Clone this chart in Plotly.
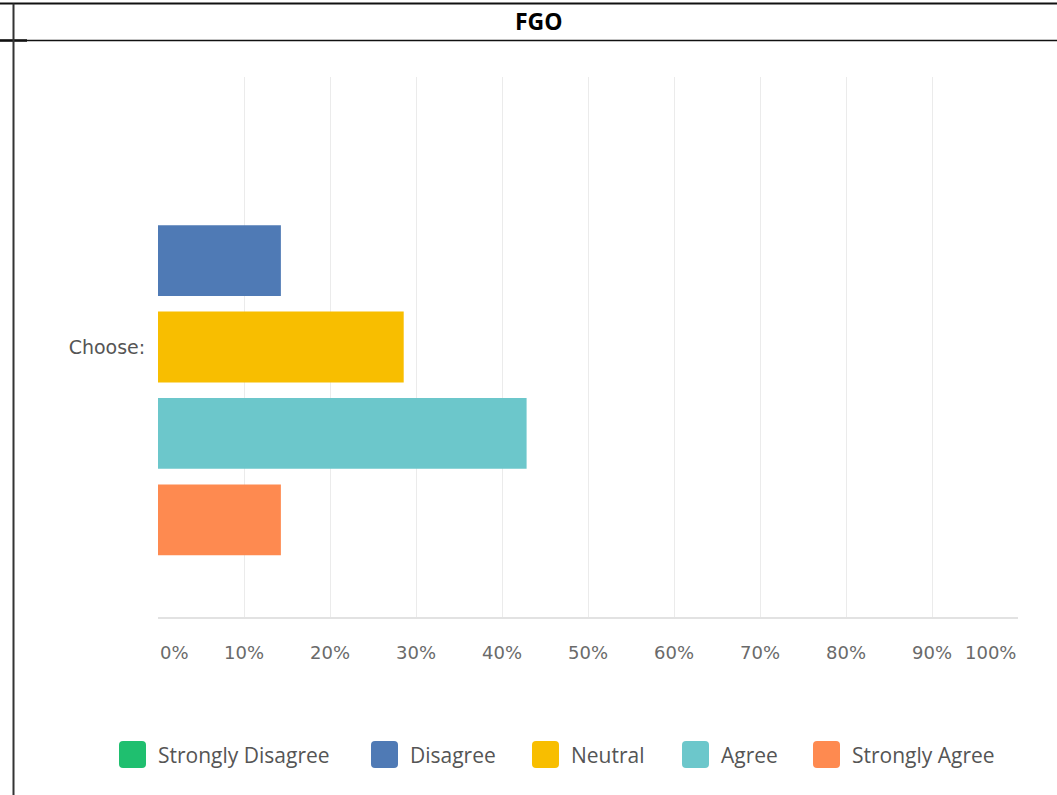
import plotly.graph_objects as go

# Survey results for the FGO statement
title = "FGO"
question = ["Choose:"]
answers = ["Strongly Disagree", "Disagree", "Neutral", "Agree", "Strongly Agree"]
shares = [0.0, 14.29, 28.57, 42.86, 14.29]
colors = ["#1fbf6f", "#4f7ab5", "#f8be00", "#6cc7cb", "#fe8a50"]
tick_values = [0, 10, 20, 30, 40, 50, 60, 70, 80, 90, 100]
tick_labels = ["0%", "10%", "20%", "30%", "40%", "50%", "60%", "70%", "80%", "90%", "100%"]

W, H = 1057, 795
L, R, T, B = 158, 1018, 77, 617  # plot area in pixels


def px(x):
    return (x - L) / (R - L)


def py(y):
    return (B - y) / (B - T)


fig = go.Figure()
for name, val, col in zip(answers, shares, colors):
    fig.add_trace(go.Bar(
        y=question, x=[val], name=name, orientation="h",
        marker=dict(color=col, line=dict(width=0)),
        showlegend=False,
    ))

axis_font = dict(family="DejaVu Sans", size=18, color="#6a6a6a")

# percentage labels under the grid
annotations = []
for v, lab in zip(tick_values, tick_labels):
    anchor = "left" if v == tick_values[0] else ("right" if v == tick_values[-1] else "center")
    annotations.append(dict(
        x=v, xref="x", y=py(652), yref="paper", text=lab, showarrow=False,
        xanchor=anchor, yanchor="middle", font=axis_font,
    ))

# legend: rounded swatches with labels
swatch_left = [119, 371, 532, 682, 813]
sw, sy0, sy1 = 27, 741, 768
shapes = []
for name, col, x0 in zip(answers, colors, swatch_left):
    x1 = x0 + sw
    r = 4
    path = (
        f"M {px(x0 + r)} {py(sy0)} L {px(x1 - r)} {py(sy0)} Q {px(x1)} {py(sy0)} {px(x1)} {py(sy0 + r)} "
        f"L {px(x1)} {py(sy1 - r)} Q {px(x1)} {py(sy1)} {px(x1 - r)} {py(sy1)} "
        f"L {px(x0 + r)} {py(sy1)} Q {px(x0)} {py(sy1)} {px(x0)} {py(sy1 - r)} "
        f"L {px(x0)} {py(sy0 + r)} Q {px(x0)} {py(sy0)} {px(x0 + r)} {py(sy0)} Z"
    )
    shapes.append(dict(type="path", xref="paper", yref="paper", path=path,
                       fillcolor=col, line=dict(width=0)))
    annotations.append(dict(
        x=px(x1 + 10), xref="paper", y=py(755), yref="paper", text=name,
        showarrow=False, xanchor="left", yanchor="middle",
        font=dict(family="Open Sans", size=21, color="#555555"),
    ))

# table cell borders around the chart
border = "#111111"
shapes += [
    dict(type="line", xref="paper", yref="paper", x0=px(0), x1=px(W), y0=py(3.5), y1=py(3.5),
         line=dict(color=border, width=2)),
    dict(type="line", xref="paper", yref="paper", x0=px(0), x1=px(W), y0=py(40.5), y1=py(40.5),
         line=dict(color=border, width=1.5)),
    dict(type="line", xref="paper", yref="paper", x0=px(0), x1=px(27), y0=py(40.5), y1=py(40.5),
         line=dict(color=border, width=2.5)),
    dict(type="line", xref="paper", yref="paper", x0=px(13.5), x1=px(13.5), y0=py(3.5), y1=py(H),
         line=dict(color="#333333", width=2)),
]

annotations.append(dict(
    x=px(539), xref="paper", y=py(21), yref="paper", text=f"<b>{title}</b>",
    showarrow=False, xanchor="center", yanchor="middle",
    font=dict(family="Open Sans", size=23, color="#000000"),
))

fig.update_layout(
    width=W, height=H,
    margin=dict(l=L, r=W - R, t=T, b=H - B, pad=0),
    paper_bgcolor="white", plot_bgcolor="white",
    barmode="group", bargap=0.2, bargroupgap=0.18,
    showlegend=False,
    xaxis=dict(range=[0, 100], tickvals=tick_values, showticklabels=False,
               showgrid=True, gridcolor="#ebebeb", gridwidth=1, zeroline=False,
               showline=True, linecolor="#e2e2e2", linewidth=1.5, ticks=""),
    yaxis=dict(type="category", autorange="reversed", showgrid=False, zeroline=False,
               showline=False, ticks="outside", ticklen=8, tickcolor="white",
               tickfont=dict(family="DejaVu Sans", size=19, color="#555555")),
    shapes=shapes,
    annotations=annotations,
)

fig.write_html("out.html")
